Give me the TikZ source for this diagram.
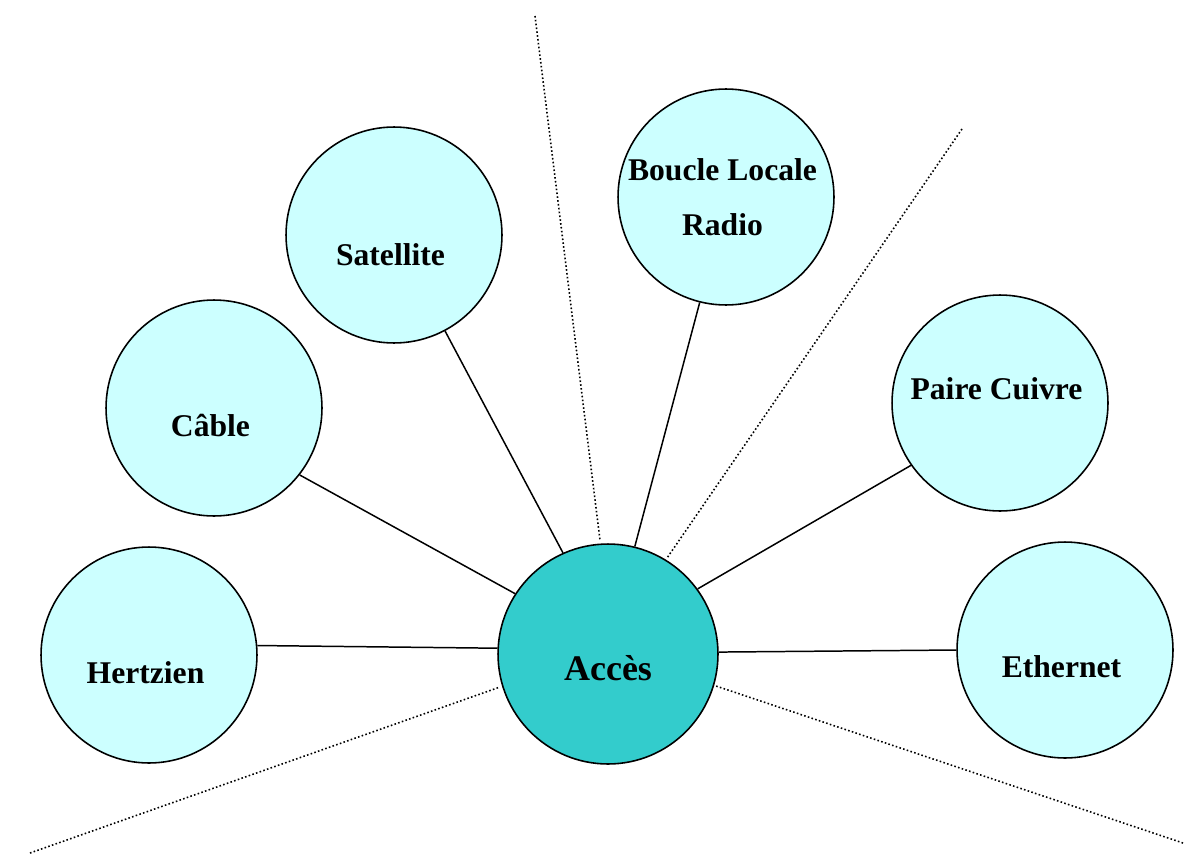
\documentclass[tikz,border=0pt]{standalone}
\usepackage{fontspec}
\setmainfont{Liberation Serif}
\definecolor{paleblue}{HTML}{CCFFFF}
\definecolor{accescolor}{HTML}{33CCCC}
\tikzset{
  media/.style={circle, draw, line width=0.9pt, fill=paleblue, minimum size=4.32cm, inner sep=0pt},
  tag/.style={font=\fontsize{18}{22}\selectfont\bfseries, align=center},
  link/.style={line width=0.85pt},
  border/.style={dash pattern=on 0.9pt off 1.3pt, line width=0.9pt}
}
\begin{document}
\begin{tikzpicture}[x=0.02cm,y=-0.02cm]
  \useasboundingbox (0,0) rectangle (1185,855);
  % separating dotted lines
  \coordinate (d1a) at (535,16);   \coordinate (d1b) at (600,540);
  \coordinate (d2a) at (962,129);  \coordinate (d2b) at (667,558);
  \coordinate (d3a) at (30,853);   \coordinate (d3b) at (500,687);
  \coordinate (d4a) at (1183,843); \coordinate (d4b) at (713,685);
  \draw[border] (d1a) -- (d1b);
  \draw[border] (d2a) -- (d2b);
  \draw[border] (d3a) -- (d3b);
  \draw[border] (d4a) -- (d4b);
  % access media
  \node[media] (hertz) at (149,655) {};
  \node[tag, xshift=-2pt, yshift=-10pt] at (hertz) {Hertzien};
  \node[media] (cable) at (214,408) {};
  \node[tag, xshift=-2pt, yshift=-10pt] at (cable) {Câble};
  \node[media] (sat) at (394,235) {};
  \node[tag, xshift=-2pt, yshift=-11pt] at (sat) {Satellite};
  \node[media] (blr) at (726,197) {};
  \node[tag, xshift=-2pt] at (blr) {Boucle Locale\\[9pt]Radio};
  \node[media] (cuivre) at (1000,403) {};
  \node[tag, xshift=-2pt, yshift=8pt] at (cuivre) {Paire Cuivre};
  \node[media] (eth) at (1065,650) {};
  \node[tag, xshift=-2pt, yshift=-9.5pt] at (eth) {Ethernet};
  % centre
  \node[media, fill=accescolor, minimum size=4.4cm] (acces) at (608,654) {};
  \node[tag, font=\fontsize{20.5}{24}\selectfont\bfseries, yshift=-8pt] at (acces) {Accès};
  % links
  \draw[link] (hertz.5) -- (acces.177);
  \draw[link] (cable.-38) -- (acces.147);
  \draw[link] (sat.-62) -- (acces.114);
  \draw[link] (blr.-104) -- (acces.76);
  \draw[link] (cuivre.215) -- (acces.36);
  \draw[link] (eth.180) -- (acces.1);
\end{tikzpicture}
\end{document}
